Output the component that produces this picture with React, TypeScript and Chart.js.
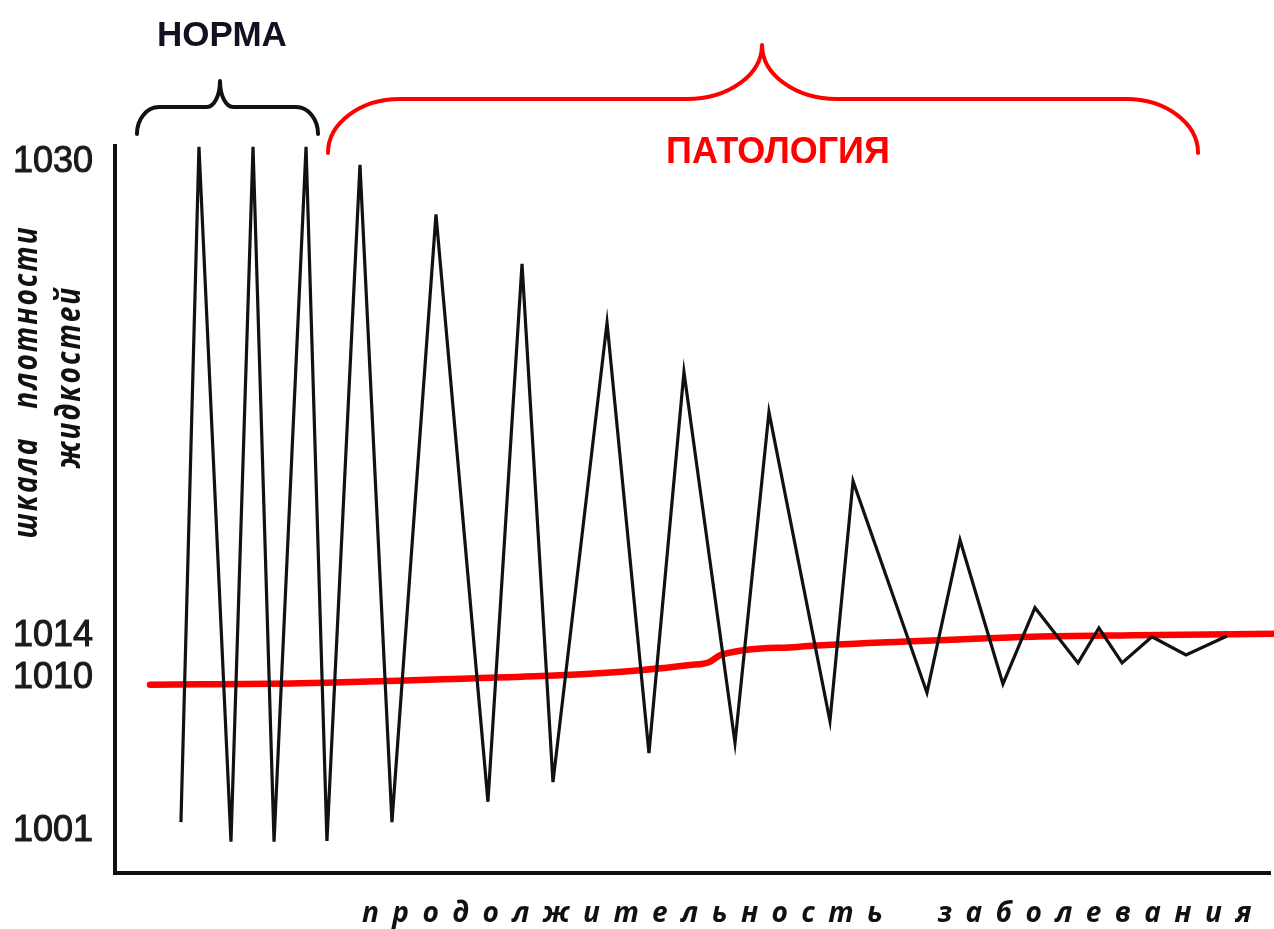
import React, { useEffect, useRef } from 'react';
import { Chart, registerables } from 'chart.js';

Chart.register(...registerables);

// ---- data (schematic units: x = duration of disease 0..100, y = level on density scale 0..100) ----
const blackTime = [5.71, 7.27, 10.04, 11.95, 13.77, 16.54, 18.35, 21.21, 23.98, 27.79, 32.29, 35.24, 37.92, 42.6, 46.23, 49.26, 53.68, 56.62, 61.9, 63.9, 70.3, 73.16, 76.88, 79.65, 83.38, 85.19, 87.19, 89.78, 92.73, 96.28];
const blackLevel = [7.0, 99.9, 4.3, 99.9, 4.3, 99.9, 4.4, 97.4, 7.0, 90.6, 9.8, 83.8, 12.5, 75.7, 16.5, 68.9, 17.9, 63.4, 20.9, 53.9, 24.8, 45.8, 26.0, 36.5, 28.9, 33.7, 28.9, 32.5, 30.0, 32.6];

const redTime = [3.03, 16.02, 31.26, 38.53, 45.45, 49.78, 51.43, 52.47, 59.05, 67.97, 79.48, 88.14, 100.35];
const redLevel = [25.9, 26.1, 26.8, 27.2, 27.9, 28.6, 29.0, 30.0, 31.1, 31.8, 32.5, 32.7, 32.9];

const tickLabels = ['1030', '1014', '1010', '1001'];
const tickLevels = [97.8, 32.6, 26.8, 5.8];

const yTitleLines = ['шкала   плотности', 'жидкостей'];
const xTitle = 'продолжительность  заболевания';
const normaLabel = 'НОРМА';
const pathLabel = 'ПАТОЛОГИЯ';

// braces (in data units)
const normaBrace = { from: 1.9, to: 17.58, tip: 9.09, end: 101.65, bar: 105.36, peak: 108.94, endCurve: 1.9, tipCurve: 1.13 };
const pathBrace = { from: 18.44, to: 93.77, tip: 56.02, end: 99.04, bar: 106.46, peak: 113.89, endCurve: 6.23, tipCurve: 6.5 };
const normaPos = { t: 9.26, level: 115.13 };
const pathPos = { t: 57.4, level: 98.97 };

const K = 0.5523;

function drawBrace(ctx: CanvasRenderingContext2D, xs: any, ys: any, b: any, color: string) {
  const X = (v: number) => xs.getPixelForValue(v);
  const Y = (v: number) => ys.getPixelForValue(v);
  const x1 = X(b.from), x2 = X(b.to), xt = X(b.tip);
  const ye = Y(b.end), yb = Y(b.bar), yt = Y(b.peak);
  const ce = X(b.from + b.endCurve) - x1;
  const ct = X(b.tip + b.tipCurve) - xt;
  const dv = ye - yb;
  const dt = yb - yt;
  ctx.beginPath();
  ctx.moveTo(x1, ye);
  ctx.bezierCurveTo(x1, ye - K * dv, x1 + ce * (1 - K), yb, x1 + ce, yb);
  ctx.lineTo(xt - ct, yb);
  ctx.bezierCurveTo(xt - ct + K * ct, yb, xt, yt + K * dt, xt, yt);
  ctx.bezierCurveTo(xt, yt + K * dt, xt + ct - K * ct, yb, xt + ct, yb);
  ctx.lineTo(x2 - ce, yb);
  ctx.bezierCurveTo(x2 - ce * (1 - K), yb, x2, ye - K * dv, x2, ye);
  ctx.strokeStyle = color;
  ctx.lineWidth = 4;
  ctx.lineCap = 'round';
  ctx.lineJoin = 'round';
  ctx.stroke();
}

const annotate = {
  id: 'annotate',
  afterDraw(chart: any) {
    const { ctx, chartArea: a, scales } = chart;
    const xs = scales.x, ys = scales.y;
    ctx.save();
    drawBrace(ctx, xs, ys, normaBrace, '#111111');
    drawBrace(ctx, xs, ys, pathBrace, '#ff0000');

    ctx.textAlign = 'center';
    ctx.textBaseline = 'middle';
    ctx.font = 'bold 35px "Liberation Sans", Arial, sans-serif';
    ctx.fillStyle = '#111122';
    ctx.fillText(normaLabel, xs.getPixelForValue(normaPos.t), ys.getPixelForValue(normaPos.level));
    ctx.fillStyle = '#ff0000';
    ctx.font = 'bold 36px "Liberation Sans", Arial, sans-serif';
    ctx.fillText(pathLabel, xs.getPixelForValue(pathPos.t), ys.getPixelForValue(pathPos.level));

    // x axis title
    ctx.fillStyle = '#111111';
    ctx.font = 'italic bold 28px "Open Sans", "DejaVu Sans", sans-serif';
    (ctx as any).letterSpacing = '13.4px';
    ctx.textAlign = 'left';
    ctx.textBaseline = 'alphabetic';
    ctx.fillText(xTitle, a.left + 247, a.bottom + 49);

    // y axis title (two rotated lines)
    (ctx as any).letterSpacing = '2px';
    ctx.font = 'italic bold 28px "Open Sans", "DejaVu Sans", sans-serif';
    ctx.textAlign = 'center';
    const lines = [
      { text: yTitleLines[0], x: a.left - 78, y: a.top + 236 },
      { text: yTitleLines[1], x: a.left - 35, y: a.top + 231 },
    ];
    for (const l of lines) {
      ctx.save();
      ctx.translate(l.x, l.y);
      ctx.rotate(-Math.PI / 2);
      ctx.scale(1, 1.2);
      ctx.fillText(l.text, 0, 0);
      ctx.restore();
    }
    ctx.restore();
  },
};

export default function App() {
  const ref = useRef<HTMLCanvasElement>(null);
  useEffect(() => {
    document.body.style.margin = '0';
    const chart = new Chart(ref.current!, {
      type: 'line',
      data: {
        datasets: [
          {
            label: 'плотность',
            data: blackTime.map((t, i) => ({ x: t, y: blackLevel[i] })),
            borderColor: '#111111',
            borderWidth: 3.2,
            pointRadius: 0,
            tension: 0,
            order: 0,
            clip: false,
          },
          {
            label: 'норма',
            data: redTime.map((t, i) => ({ x: t, y: redLevel[i] })),
            borderColor: '#ff0000',
            borderWidth: 6.5,
            pointRadius: 0,
            cubicInterpolationMode: 'monotone',
            borderCapStyle: 'round',
            order: 1,
            clip: false,
          },
        ] as any,
      },
      options: {
        animation: false,
        responsive: false,
        layout: { padding: { top: 146, right: 4, left: 0, bottom: 0 } },
        plugins: { legend: { display: false }, tooltip: { enabled: false }, title: { display: false } },
        scales: {
          x: {
            type: 'linear',
            min: 0,
            max: 100,
            grid: { display: false, drawTicks: false },
            border: { display: true, color: '#111111', width: 4 },
            ticks: { display: false },
            afterFit: (s: any) => { s.height = 56; },
          },
          y: {
            type: 'linear',
            min: 0,
            max: 100,
            grid: { display: false, drawTicks: false },
            border: { display: true, color: '#111111', width: 4 },
            afterBuildTicks: (s: any) => { s.ticks = tickLevels.map((v) => ({ value: v })); },
            ticks: {
              autoSkip: false,
              padding: 22,
              color: '#1a1a1a',
              textStrokeColor: '#1a1a1a',
              textStrokeWidth: 1,
              font: { family: '"Liberation Sans", Arial, sans-serif', size: 36 },
              callback: (_v: any, i: number) => tickLabels[i],
            },
            afterFit: (s: any) => { s.width = 115; },
          },
        },
      } as any,
      plugins: [annotate],
    });
    return () => chart.destroy();
  }, []);
  return (
    <div style={{ width: 1274, height: 929 }}>
      <canvas ref={ref} width={1274} height={929} style={{ display: 'block' }} />
    </div>
  );
}
